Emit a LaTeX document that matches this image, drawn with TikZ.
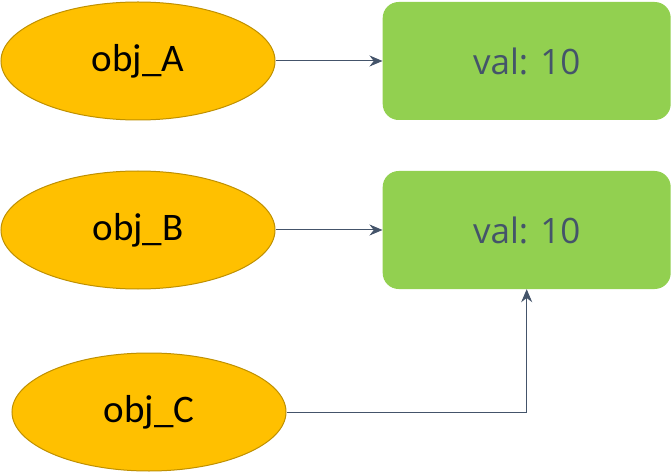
\documentclass[tikz,border=0pt]{standalone}
\usepackage{fontspec}
\setmainfont{Carlito}
\newfontfamily\valfont{Open Sans}
\usetikzlibrary{arrows.meta,positioning,shapes.geometric}
\definecolor{objfill}{HTML}{FFC000}
\definecolor{objline}{HTML}{BF9000}
\definecolor{valfill}{HTML}{92D050}
\definecolor{slate}{HTML}{44546A}

\begin{document}
\begin{tikzpicture}[
    x=1pt, y=1pt,
    node distance=50pt,
    obj/.style={ellipse, draw=objline, fill=objfill, line width=1pt, inner sep=0pt, minimum width=274pt, minimum height=118pt, font=\fontsize{39}{42}\selectfont},
    val/.style={rectangle, fill=valfill, rounded corners=16pt, minimum width=288pt, minimum height=118pt, text=slate, font=\valfont\fontsize{35}{38}\selectfont},
    arrow/.style={-{Stealth[length=13pt,width=11pt]}, line width=1pt, color=slate}
]
\useasboundingbox (0,0) rectangle (672,-473);
\node[obj] (objA) at (138,-61) {obj\_A};
\node[val, right=107pt of objA] (valA) {val: 10};
\node[obj, below=of objA] (objB) {obj\_B};
\node[val, right=107pt of objB] (valB) {val: 10};
\node[obj] (objC) at (149,-412) {obj\_C};

\draw[arrow] (objA) -- (valA);
\draw[arrow] (objB) -- (valB);
\draw[arrow] (objC.east) -| (valB.south);
\end{tikzpicture}
\end{document}
